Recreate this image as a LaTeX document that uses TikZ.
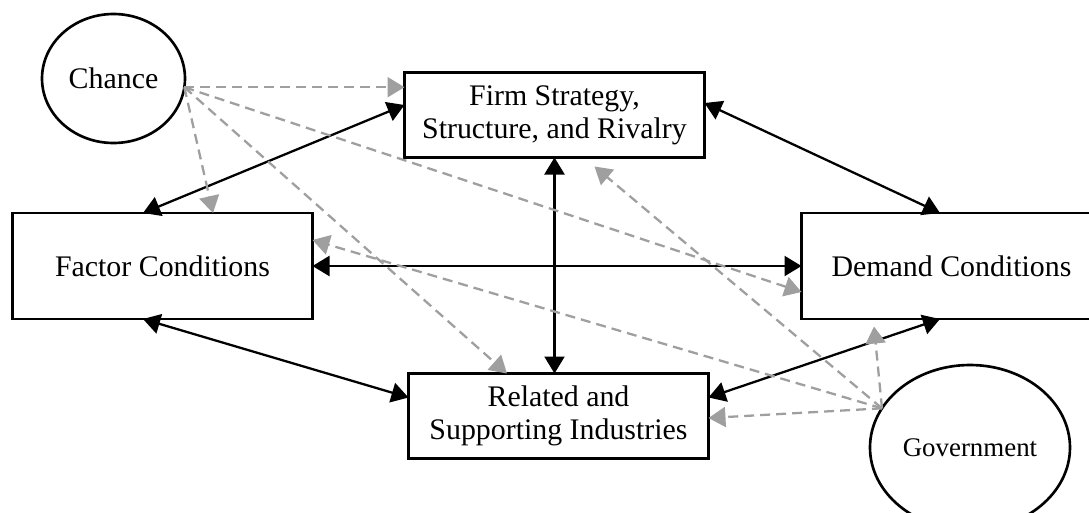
\documentclass[tikz,border=0pt]{standalone}
\usepackage{fontspec}
\setmainfont{Liberation Serif}
\usetikzlibrary{arrows.meta, positioning, shapes.geometric, calc}

\begin{document}
\begin{tikzpicture}[
    >={Triangle[length=0.34cm, width=0.4cm]},
    box/.style={rectangle, draw, line width=1.7pt, outer sep=0pt, minimum width=6cm, align=center, font=\fontsize{17}{18.8}\selectfont},
    mainbox/.style={box, minimum height=1.7cm},
    sidebox/.style={box, minimum height=2.12cm},
    oval/.style={ellipse, draw, line width=1.5pt, inner sep=0pt, outer sep=0pt},
    both/.style={<->, line width=1.3pt},
    influence/.style={->, draw=gray!75, line width=1.3pt, dash pattern=on 0.2cm off 0.12cm}
]
\useasboundingbox (0,0) rectangle (21.78,-10.24);

% Diamond nodes
\node[mainbox] (firm) at (11.09,-2.30) {Firm Strategy,\\Structure, and Rivalry};
\node[mainbox, below=4.32cm of firm, xshift=0.08cm] (related) {Related and\\Supporting Industries};
\node[sidebox] (factor) at (3.25,-5.32) {Factor Conditions};
\node[sidebox, draw=none, right=9.78cm of factor] (demand) {Demand Conditions};
\draw[line width=1.7pt] (demand.north west) rectangle ([xshift=1cm]demand.south east);

% Outside forces
\node[oval, minimum width=2.86cm, minimum height=2.58cm, font=\fontsize{17}{18.8}\selectfont] (chance) at (2.27,-1.57) {Chance};
\node[oval, minimum width=4cm, minimum height=3.3cm, font=\fontsize{15.3}{17}\selectfont] (gov) at (19.40,-8.95) {Government};

\coordinate (chanceout) at (chance.-7);
\coordinate (govout) at (gov.156);

% Two-way links
\draw[both] ([xshift=-0.39cm]factor.north) -- ([yshift=0.2cm]firm.west);
\draw[both] ([yshift=0.24cm]firm.east) -- ([xshift=-0.23cm]demand.north);
\draw[both] (firm.south) -- (firm.south |- related.north);
\draw[both] (factor.east) -- (demand.west);
\draw[both] ([xshift=-0.39cm]factor.south) -- ([yshift=0.37cm]related.west);
\draw[both] ([yshift=0.37cm]related.east) -- ([xshift=-0.23cm]demand.south);

% Chance
\draw[influence] (chanceout) -- (chanceout -| firm.west);
\draw[influence] (chanceout) -- ([xshift=1.01cm]factor.north);
\draw[influence] (chanceout) -- ([xshift=-1.03cm]related.north);
\draw[influence] (chanceout) -- ([yshift=-0.52cm]demand.west);

% Government
\draw[influence] (govout) -- ([xshift=0.8cm, yshift=-0.18cm]firm.south);
\draw[influence] (govout) -- ([yshift=0.52cm]factor.east);
\draw[influence] (govout) -- ([xshift=-1.55cm, yshift=-0.15cm]demand.south);
\draw[influence] (govout) -- ([yshift=-0.04cm]related.east);

\end{tikzpicture}
\end{document}
